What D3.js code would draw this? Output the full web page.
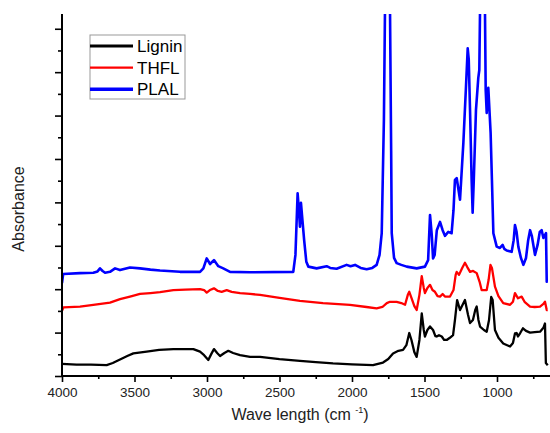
<!DOCTYPE html>
<html>
<head>
<meta charset="utf-8">
<script src="https://cdn.jsdelivr.net/npm/d3@7"></script>
<style>
  html, body { margin: 0; padding: 0; background: #fff; }
  svg { display: block; font-family: Arial, "Liberation Sans", sans-serif; }
</style>
</head>
<body>
<svg id="chart" width="550" height="433"></svg>
<script>
// ---- data (wavenumber cm^-1, absorbance in arbitrary offset units) ----
const seriesNames = ["Lignin", "THFL", "PLAL"];
const seriesColors = ["#000000", "#ff0000", "#0000ff"];

const lignin = [
  [4000,0.28],[3900,0.26],[3800,0.26],[3692,0.25],[3650,0.30],[3600,0.38],[3550,0.46],[3508,0.52],
  [3416,0.56],[3330,0.60],[3232,0.62],[3150,0.62],[3094,0.62],[3048,0.56],[3020,0.48],[2991,0.37],
  [2970,0.51],[2952,0.62],[2930,0.53],[2910,0.46],[2880,0.53],[2853,0.58],[2820,0.53],[2772,0.48],
  [2703,0.44],[2634,0.44],[2500,0.39],[2359,0.35],[2250,0.32],[2131,0.29],[2000,0.27],[1855,0.25],
  [1786,0.31],[1750,0.39],[1717,0.52],[1680,0.58],[1648,0.60],[1625,0.71],[1605,0.99],[1590,0.83],
  [1570,0.55],[1554,0.44],[1535,0.83],[1519,1.44],[1505,1.06],[1497,0.91],[1480,1.06],[1462,1.14],
  [1441,1.06],[1425,0.92],[1416,0.91],[1400,0.94],[1381,0.91],[1365,0.83],[1347,0.83],[1325,0.88],
  [1303,0.94],[1290,1.29],[1275,1.75],[1255,1.52],[1221,1.75],[1200,1.41],[1186,1.22],[1166,1.29],
  [1150,1.52],[1140,1.60],[1128,1.29],[1117,1.14],[1090,1.06],[1071,1.02],[1055,1.29],[1040,1.82],
  [1030,1.75],[1014,1.06],[990,0.88],[957,0.75],[930,0.71],[910,0.68],[890,0.76],[876,0.98],
  [865,0.99],[855,0.91],[840,0.99],[821,1.10],[800,1.04],[772,1.00],[740,1.01],[703,1.02],
  [680,1.11],[669,1.21],[663,0.30],[650,0.25]
];

const thfl = [
  [4000,1.50],[3990,1.58],[3876,1.60],[3784,1.64],[3669,1.69],[3600,1.77],[3531,1.83],[3462,1.89],
  [3390,1.91],[3324,1.93],[3232,1.98],[3150,1.99],[3048,2.00],[3020,1.98],[3002,1.92],[2980,1.98],
  [2952,2.02],[2925,1.96],[2899,1.94],[2864,1.98],[2830,1.94],[2772,1.91],[2703,1.89],[2634,1.87],
  [2500,1.80],[2359,1.73],[2200,1.68],[2014,1.64],[1900,1.59],[1830,1.56],[1790,1.59],[1760,1.68],
  [1738,1.71],[1692,1.71],[1660,1.68],[1634,1.64],[1615,1.87],[1605,1.94],[1590,1.80],[1570,1.61],
  [1554,1.52],[1535,1.87],[1519,2.30],[1505,2.03],[1497,1.91],[1480,2.03],[1462,2.10],[1445,1.98],
  [1428,1.94],[1410,1.84],[1393,1.83],[1375,1.89],[1359,1.83],[1324,1.83],[1300,1.98],[1285,2.33],
  [1278,2.40],[1262,2.33],[1240,2.49],[1221,2.61],[1205,2.51],[1186,2.40],[1165,2.42],[1140,2.37],
  [1120,2.17],[1106,1.98],[1071,1.98],[1058,2.21],[1045,2.56],[1035,2.49],[1014,2.06],[990,1.84],
  [957,1.68],[910,1.64],[890,1.71],[876,1.91],[855,1.79],[830,1.83],[810,1.71],[772,1.60],
  [740,1.59],[703,1.60],[680,1.66],[669,1.71],[657,1.52],[650,1.52]
];

const plal = [
  [4000,2.14],[3992,2.35],[3876,2.37],[3784,2.38],[3755,2.41],[3738,2.48],[3720,2.42],[3703,2.38],
  [3669,2.40],[3634,2.48],[3600,2.44],[3531,2.50],[3462,2.48],[3390,2.45],[3324,2.43],[3186,2.40],
  [3048,2.40],[3025,2.48],[3002,2.71],[2979,2.58],[2952,2.67],[2922,2.53],[2888,2.48],[2841,2.40],
  [2703,2.39],[2405,2.40],[2390,2.79],[2375,4.21],[2366,3.82],[2359,3.44],[2352,3.99],[2345,3.71],
  [2330,3.13],[2315,2.63],[2301,2.52],[2244,2.48],[2175,2.53],[2150,2.49],[2106,2.47],[2037,2.56],
  [2010,2.53],[1979,2.56],[1940,2.49],[1899,2.46],[1860,2.49],[1830,2.56],[1810,2.79],[1795,3.29],
  [1780,5.90],[1772,8.60],[1755,9.20],[1745,9.20],[1738,8.50],[1730,5.20],[1726,3.29],[1710,2.72],
  [1692,2.60],[1660,2.56],[1623,2.52],[1554,2.48],[1497,2.52],[1475,2.67],[1462,3.71],[1450,3.25],
  [1441,2.71],[1430,2.79],[1415,3.36],[1393,3.55],[1375,3.36],[1359,3.23],[1336,3.32],[1313,3.29],
  [1300,3.82],[1290,4.52],[1278,4.56],[1255,4.06],[1232,5.37],[1215,6.59],[1202,7.55],[1195,7.30],
  [1186,6.13],[1175,4.52],[1168,3.76],[1160,4.52],[1145,6.13],[1135,6.59],[1129,6.87],[1122,7.05],
  [1117,8.43],[1105,9.20],[1095,9.20],[1083,8.43],[1078,6.59],[1071,6.06],[1060,6.64],[1044,5.60],
  [1035,4.52],[1025,3.29],[1002,2.98],[980,2.95],[961,3.02],[950,2.93],[933,2.89],[899,2.86],
  [885,3.13],[876,3.48],[865,3.32],[853,2.98],[835,2.72],[818,2.56],[800,2.72],[785,3.13],
  [772,3.36],[760,3.23],[738,2.79],[720,3.02],[705,3.32],[692,3.36],[680,3.18],[662,3.29],
  [657,2.17],[650,2.17]
];

const xTickValues = [4000, 3500, 3000, 2500, 2000, 1500, 1000];
const xMinorTickValues = [3750, 3250, 2750, 2250, 1750, 1250, 750];
const yMajorTickValues = [0, 1, 2, 3, 4, 5, 6, 7, 8];
const yMinorTickValues = [0.5, 1.5, 2.5, 3.5, 4.5, 5.5, 6.5, 7.5];

const xTitle = "Wave length (cm";
const yTitle = "Absorbance";

// ---- layout ----
const svg = d3.select("#chart");
const mLeft = 62, mRight = 547.75, mTop = 14, mBottom = 376;

const x = d3.scaleLinear().domain([4000, 650]).range([mLeft, mRight]);
const y = d3.scaleLinear().domain([0, 8.34]).range([mBottom, mTop]);

svg.append("defs").append("clipPath").attr("id", "plotclip")
  .append("rect").attr("x", mLeft).attr("y", mTop).attr("width", 550 - mLeft).attr("height", mBottom - mTop);

// data lines
const line = d3.line().x(d => x(d[0])).y(d => y(d[1]));
const allSeries = [lignin, thfl, plal];
const widths = [2.3, 2.3, 2.6];
const g = svg.append("g").attr("clip-path", "url(#plotclip)");
allSeries.forEach((s, i) => {
  g.append("path").datum(s)
    .attr("fill", "none")
    .attr("stroke", seriesColors[i])
    .attr("stroke-width", widths[i])
    .attr("stroke-linejoin", "round")
    .attr("d", line);
});

// axes
const xAxis = d3.axisBottom(x).tickValues(xTickValues).tickSize(6).tickPadding(5).tickFormat(d3.format("d"));
const xAxisMinor = d3.axisBottom(x).tickValues(xMinorTickValues).tickSize(3).tickFormat("");
const yAxis = d3.axisLeft(y).tickValues(yMajorTickValues).tickSize(7).tickFormat("");
const yAxisMinor = d3.axisLeft(y).tickValues(yMinorTickValues).tickSize(4).tickFormat("");

const gx = svg.append("g").attr("transform", `translate(0,${mBottom})`).call(xAxis);
const gxm = svg.append("g").attr("transform", `translate(0,${mBottom})`).call(xAxisMinor);
const gy = svg.append("g").attr("transform", `translate(${mLeft},0)`).call(yAxis);
const gym = svg.append("g").attr("transform", `translate(${mLeft},0)`).call(yAxisMinor);

[gx, gxm, gy, gym].forEach(a => {
  a.select(".domain").remove();
  a.selectAll(".tick line").attr("stroke", "#000").attr("stroke-width", 1.6);
});
gx.selectAll(".tick text").attr("font-size", 13.5).attr("fill", "#222")
  .attr("font-family", "Arial, 'Liberation Sans', sans-serif");

// axis lines
svg.append("line").attr("x1", mLeft).attr("x2", mLeft).attr("y1", mTop).attr("y2", mBottom + 1)
  .attr("stroke", "#000").attr("stroke-width", 2);
svg.append("line").attr("x1", mLeft - 1).attr("x2", 550).attr("y1", mBottom).attr("y2", mBottom)
  .attr("stroke", "#000").attr("stroke-width", 2);

// titles
const xt = svg.append("text").attr("x", 300).attr("y", 420).attr("text-anchor", "middle")
  .attr("font-size", 16).attr("fill", "#222");
xt.append("tspan").text(xTitle + " ");
xt.append("tspan").attr("font-size", 9).attr("dy", -7).text("-1");
xt.append("tspan").attr("dy", 7).text(")");

svg.append("text").attr("transform", "translate(24,209) rotate(-90)")
  .attr("text-anchor", "middle").attr("font-size", 16).attr("fill", "#222").text(yTitle);

// legend
const lg = svg.append("g");
lg.append("rect").attr("x", 90).attr("y", 35).attr("width", 95).attr("height", 64)
  .attr("fill", "#fff").attr("stroke", "#999").attr("stroke-width", 1);
const legendY = [46, 67.7, 89.3];
const legendW = [3, 2.2, 3.5];
seriesNames.forEach((n, i) => {
  lg.append("line").attr("x1", 90).attr("x2", 133).attr("y1", legendY[i]).attr("y2", legendY[i])
    .attr("stroke", seriesColors[i]).attr("stroke-width", legendW[i]);
  lg.append("text").attr("x", 137).attr("y", legendY[i] + 6).attr("font-size", 17)
    .attr("fill", "#000").text(n);
});
</script>
</body>
</html>
